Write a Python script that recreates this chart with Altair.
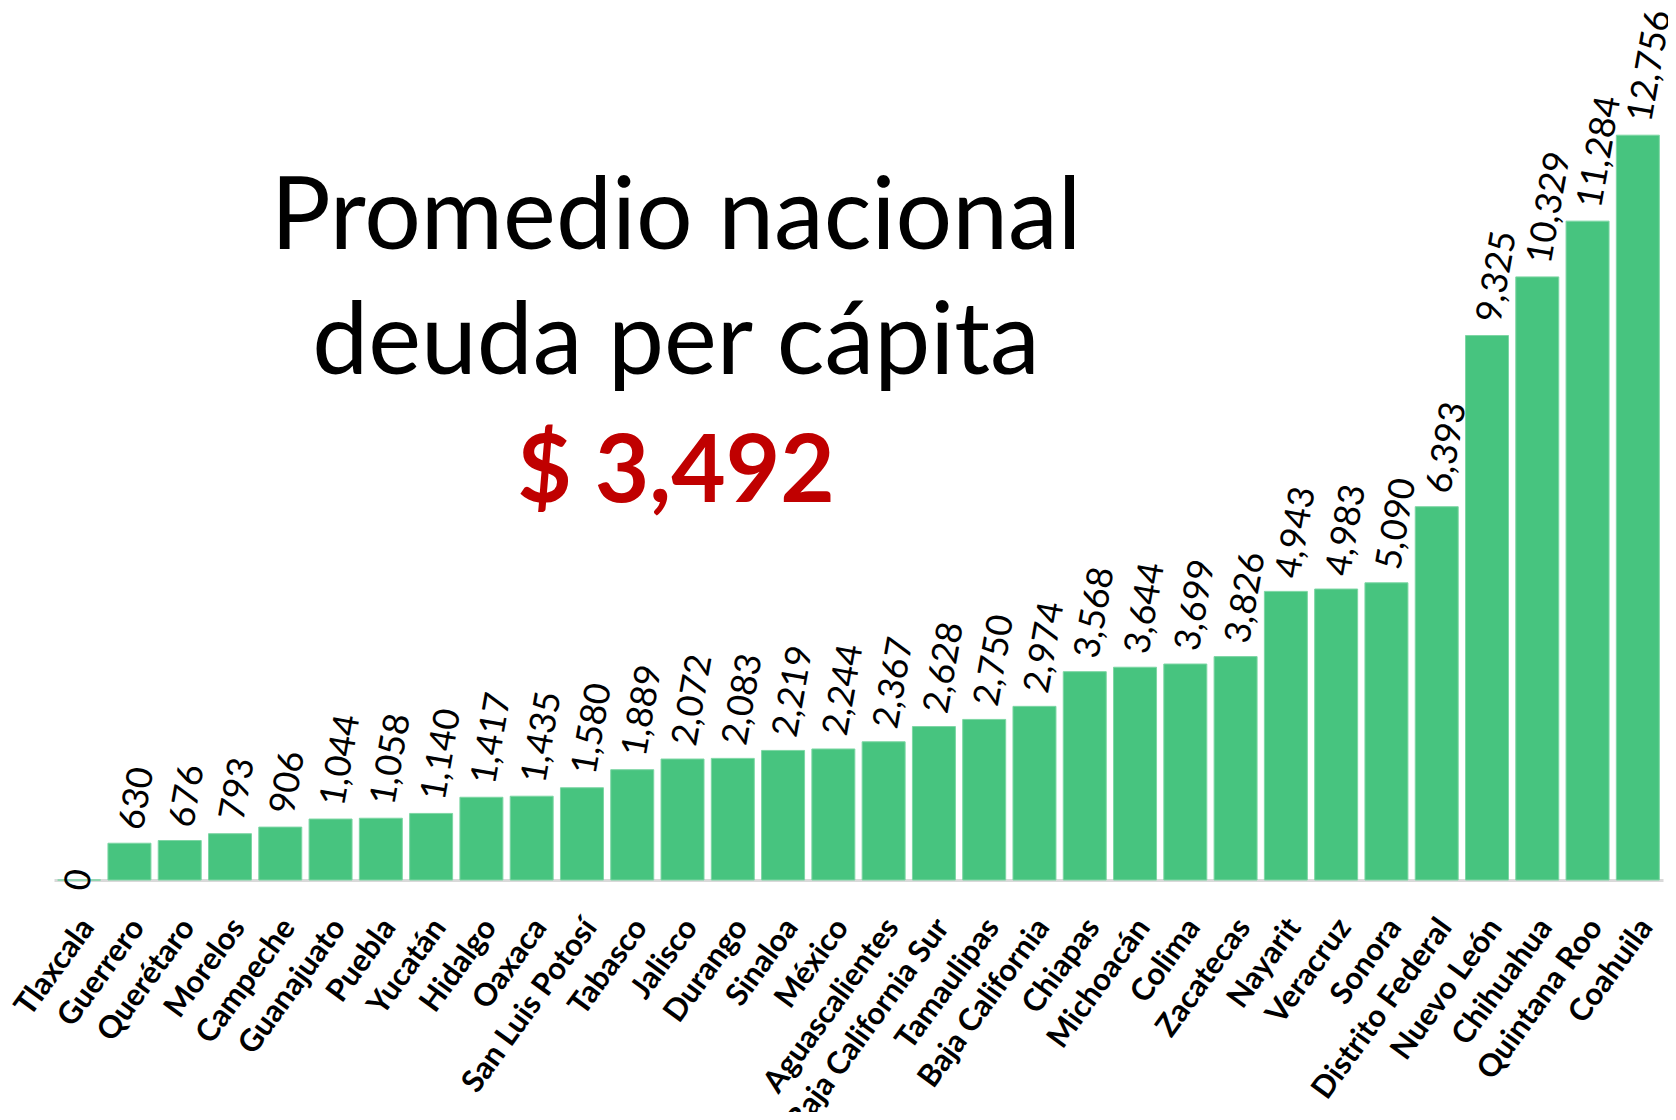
import altair as alt
import pandas as pd

estados = ["Tlaxcala", "Guerrero", "Querétaro", "Morelos", "Campeche", "Guanajuato",
           "Puebla", "Yucatán", "Hidalgo", "Oaxaca", "San Luis Potosí", "Tabasco",
           "Jalisco", "Durango", "Sinaloa", "México", "Aguascalientes",
           "Baja California Sur", "Tamaulipas", "Baja California", "Chiapas",
           "Michoacán", "Colima", "Zacatecas", "Nayarit", "Veracruz", "Sonora",
           "Distrito Federal", "Nuevo León", "Chihuahua", "Quintana Roo", "Coahuila"]
deuda = [0, 630, 676, 793, 906, 1044, 1058, 1140, 1417, 1435, 1580, 1889, 2072, 2083,
         2219, 2244, 2367, 2628, 2750, 2974, 3568, 3644, 3699, 3826, 4943, 4983, 5090,
         6393, 9325, 10329, 11284, 12756]

titulo = ["Promedio nacional", "deuda per cápita"]
promedio = "$ 3,492"

df = pd.DataFrame({"estado": estados, "deuda": deuda})

GREEN = "#47C47F"
x_enc = alt.X("estado:N", sort=None,
              scale=alt.Scale(paddingInner=0.145, paddingOuter=0.073),
              axis=alt.Axis(title=None, labelAngle=-54, labelAlign="right",
                            labelBaseline="middle", labelFont="Lato",
                            labelFontWeight="bold", labelFontSize=31,
                            labelColor="#000000", labelPadding=42, labelOffset=9,
                            labelOverlap=False, labelLimit=0, ticks=False, tickSize=0,
                            domainColor="#D9D9D9", domainWidth=3, grid=False))
y_enc = alt.Y("deuda:Q", scale=alt.Scale(domain=[0, 14900], nice=False, zero=True),
              axis=None)

base = alt.Chart(df)
bars = base.mark_bar(color=GREEN, stroke="#7DD6A4", strokeWidth=1).encode(x=x_enc, y=y_enc)
vals = base.transform_filter("datum.deuda > 0").mark_text(
    angle=280, align="left", baseline="middle", dx=14,
    font="Lato", fontSize=36, color="#000000").encode(
    x=x_enc, y=y_enc, text=alt.Text("deuda:Q", format=",d"))
zero = base.transform_filter("datum.deuda == 0").mark_text(
    angle=280, align="center", baseline="middle",
    font="Lato", fontSize=36, color="#000000").encode(
    x=x_enc, y=y_enc, text=alt.Text("deuda:Q", format=",d"))

t1 = alt.Chart(alt.Data(values=[{"k": 1}])).mark_text(
    text=titulo, font="Lato", fontSize=100, lineHeight=125, align="center",
    baseline="alphabetic", color="#000000").encode(x=alt.value(622), y=alt.value(239))
t2 = alt.Chart(alt.Data(values=[{"k": 1}])).mark_text(
    text=promedio, font="Lato", fontSize=94, fontWeight="bold", align="center",
    baseline="alphabetic", color="#C00000").encode(x=alt.value(622), y=alt.value(492))

chart = alt.layer(bars, vals, zero, t1, t2).properties(
    width=1609, height=870,
    autosize=alt.AutoSizeParams(type="none"),
    padding={"left": 46, "top": 2, "right": 5, "bottom": 232},
).configure(background="white").configure_view(strokeWidth=0, stroke="transparent")

chart.save("out.html", embed_options={"renderer": "svg", "actions": False})
